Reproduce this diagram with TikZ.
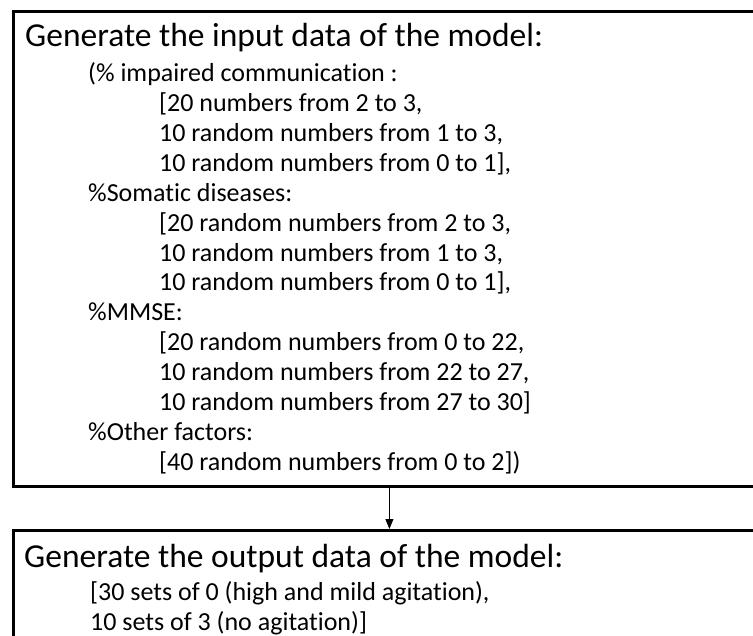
\documentclass[tikz,border=0pt]{standalone}
\usepackage{fontspec}
\setmainfont{Carlito}[Ligatures=NoCommon]
\usepackage{tikz}
\usetikzlibrary{arrows.meta, positioning}
\newcommand{\subin}{\hspace*{71pt}}

\begin{document}
\begin{tikzpicture}[x=1pt, y=-1pt,
    databox/.style={draw, line width=2.8pt, minimum width=752pt,
                    inner sep=0pt, anchor=north west},
    head/.style={anchor=base west, inner sep=0pt,
                 font=\fontsize{33.5}{40}\selectfont},
    body/.style={anchor=base west, inner sep=0pt, align=left,
                 font=\fontsize{26}{30}\selectfont},
    arr/.style={-{Triangle[length=10pt, width=8pt]}, line width=0.8pt}
  ]
    \clip (0,0) rectangle (753,636);
    \node[databox, minimum height=475pt] (inbox) at (12,10) {};
    \node[databox, minimum height=200pt] (outbox) at (12,529) {};
    \draw[arr] (inbox) -- (outbox);
    \node[head] (intitle) at (25,47) {Generate the input data of the model:};
    % base of a multi-line node = baseline of its last line
    \node[body] (inlist) at (88,471) {
      (\% impaired communication :\\
      \subin[20 numbers from 2 to 3,\\
      \subin10 random numbers from 1 to 3,\\
      \subin10 random numbers from 0 to 1],\\
      \%Somatic diseases:\\
      \subin[20 random numbers from 2 to 3,\\
      \subin10 random numbers from 1 to 3,\\
      \subin10 random numbers from 0 to 1],\\
      \%MMSE:\\
      \subin[20 random numbers from 0 to 22,\\
      \subin10 random numbers from 22 to 27,\\
      \subin10 random numbers from 27 to 30]\\
      \%Other factors:\\
      \subin[40 random numbers from 0 to 2])};
    \node[head] (outtitle) at (24,567) {Generate the output data of the model:};
    \node[body] (outlist) at (90,630) {
      [30 sets of 0 (high and mild agitation),\\
      10 sets of 3 (no agitation)]};
  \end{tikzpicture}
\end{document}
